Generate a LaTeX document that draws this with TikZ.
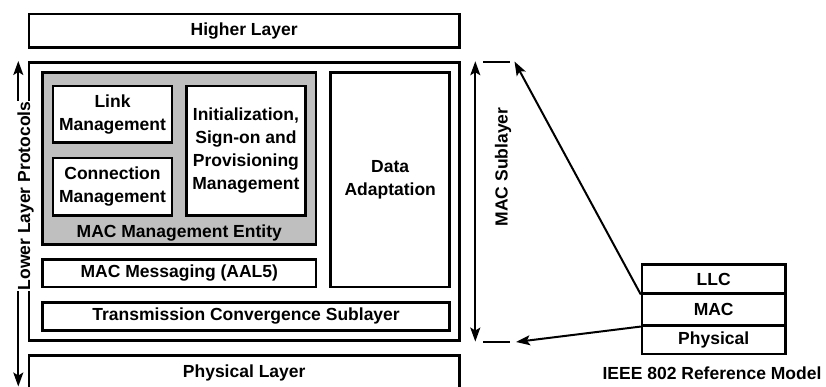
\documentclass[tikz,border=0pt]{standalone}
\usepackage{fontspec}
\setmainfont{Liberation Sans}
\usepackage{tikz}
\usetikzlibrary{arrows.meta, positioning, calc}

\begin{document}
\begin{tikzpicture}[x=1pt, y=-1pt,
    box/.style={draw, line width=2.5pt, font=\fontsize{17.5}{23}\selectfont\bfseries,
                align=center, inner sep=0pt, fill=white},
    grp/.style={box, fill=black!25},
    lbl/.style={font=\fontsize{17.5}{23}\selectfont\bfseries, inner sep=0pt},
    arr/.style={-{Stealth[length=14pt, width=10pt, inset=3pt]}, line width=2pt},
    dbl/.style={{Stealth[length=14pt, width=10pt, inset=3pt]}-{Stealth[length=14pt, width=10pt, inset=3pt]}, line width=1.8pt},
    ext/.style={line width=2pt}]
  \useasboundingbox (0,0) rectangle (826,387);

  % protocol layers
  \node[box, minimum width=430.7pt, minimum height=33.3pt] (hl) at (244.2,30.9) {Higher Layer};
  \node[box, minimum width=430.7pt, minimum height=277.8pt] (macbox) at (244.2,201.4) {};
  \node[box, minimum width=430.7pt, minimum height=35.4pt] (phy) at (244.2,373) {Physical Layer};

  % inside the MAC sublayer
  \node[grp, minimum width=273.5pt, minimum height=172.2pt] (mme) at (179.3,158.6) {};
  \node[box, minimum width=118.6pt, minimum height=56.9pt] (link) at (112.5,114.3) {Link\\Management};
  \node[box, minimum width=118.6pt, minimum height=57.3pt] (conn) at (112.5,186.7) {Connection\\Management};
  \node[box, minimum width=118.8pt, minimum height=129.5pt] (init) at (245.9,150.6)
    {Initialization,\\Sign-on and\\Provisioning\\Management};
  \node[lbl] (mmelbl) at (179.3,233) {MAC Management Entity};
  \node[box, minimum width=119pt, minimum height=214.5pt] (data) at (390.2,179.8) {Data\\Adaptation};
  \node[box, minimum width=273.5pt, minimum height=27.3pt] (msg) at (179.3,273.3) {MAC Messaging (AAL5)};
  \node[box, minimum width=407.2pt, minimum height=28pt] (tcs) at (246.1,316.3) {Transmission Convergence Sublayer};

  % lower layer protocols span
  \coordinate (lowtop) at (18.3,61);
  \coordinate (lowbot) at (18.3,386.5);
  \draw[dbl] (lowtop) -- (lowbot);
  \node[lbl, rotate=90, fill=white, inner sep=0.5pt] (lowlbl) at (25.5,196) {Lower Layer Protocols};

  % MAC sublayer span
  \coordinate (subtop) at ($(macbox.north east)+(14.5,0)$);
  \coordinate (subbot) at ($(macbox.south east)+(14.5,0)$);
  \draw[dbl] (subtop) -- (subbot);
  \node[lbl, rotate=90] (sublbl) at (503,167) {MAC Sublayer};

  % IEEE 802 stack
  \node[box, minimum width=143.3pt, minimum height=28.6pt] (llc) at (713.7,279) {LLC};
  \node[box, minimum width=143.3pt, minimum height=32pt] (mac) at (713.7,309.3) {MAC};
  \node[box, minimum width=143.3pt, minimum height=28.7pt] (phys) at (713.7,339.7) {Physical};
  \node[lbl] (ieee) at (712,373) {IEEE 802 Reference Model};

  % mapping of the MAC onto the sublayer
  \coordinate (dt1) at (483,62);
  \coordinate (dt2) at (510,62);
  \coordinate (db1) at (483,341.7);
  \coordinate (db2) at (510,341.7);
  \coordinate (tiptop) at (514.5,61.5);
  \coordinate (tipbot) at (516,342);
  \draw[ext] (dt1) -- (dt2);
  \draw[ext] (db1) -- (db2);
  \draw[arr] (llc.south west) -- (tiptop);
  \draw[arr] (mac.south west) -- (tipbot);
\end{tikzpicture}
\end{document}
